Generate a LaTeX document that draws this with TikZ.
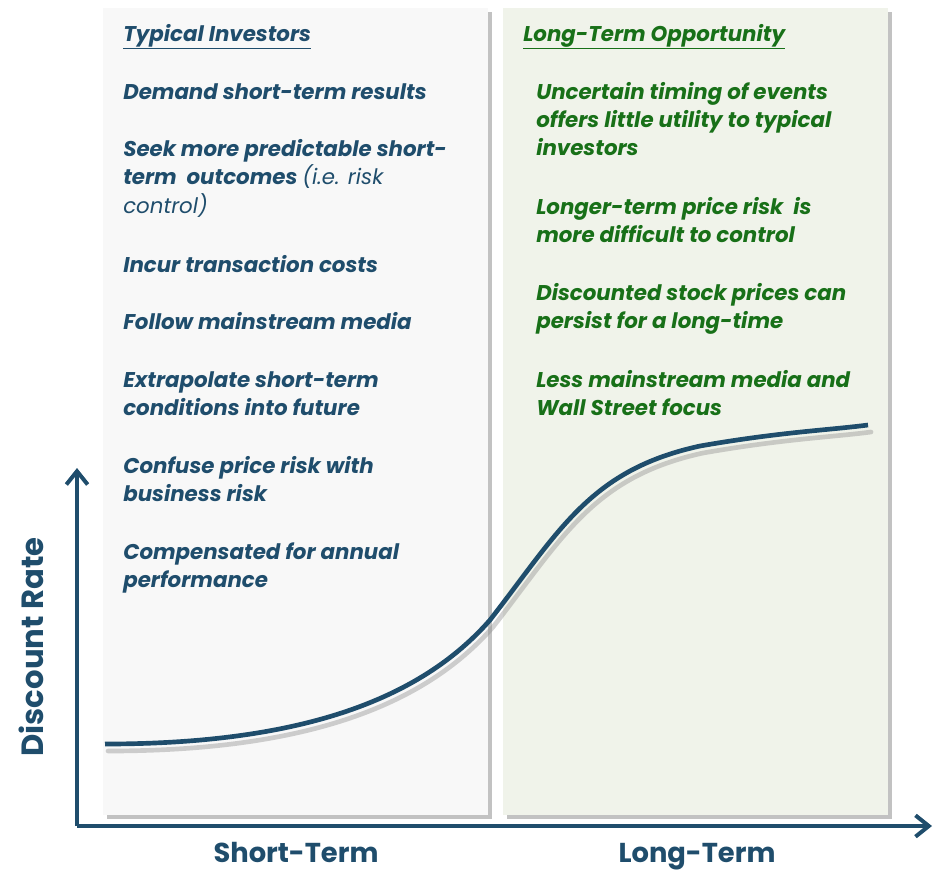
\documentclass[tikz,border=0pt]{standalone}
\usepackage{fontspec}
\setmainfont{Poppins}
\usetikzlibrary{shadows,arrows.meta}
\definecolor{navy}{RGB}{31,77,108}
\definecolor{grn}{RGB}{24,112,24}
\definecolor{lpanel}{RGB}{248,248,248}
\definecolor{rpanel}{RGB}{240,243,234}
\begin{document}
\begin{tikzpicture}[x=0.75pt,y=-0.75pt,
  panel/.style={draw=none, drop shadow={shadow xshift=3pt, shadow yshift=-3pt, opacity=0.4, fill=black!60}},
  ltxt/.style={anchor=base west, inner sep=0pt, text=navy, font=\fontsize{16}{19}\selectfont\bfseries\itshape},
  rtxt/.style={ltxt, text=grn},
  axis/.style={draw=navy, line width=3pt, -{Straight Barb[length=10pt,width=16pt,line width=3pt]}},
  axlab/.style={text=navy, font=\fontsize{20.5}{24}\selectfont\bfseries, inner sep=0pt}]
\useasboundingbox (0,0) rectangle (934,872);
% panels
\path[panel, fill=lpanel] (103,8) rectangle (488,815);
\path[panel, fill=rpanel] (503,8) rectangle (888,815);
% axes
\coordinate (o) at (77,826);
\coordinate (ytip) at (77,468);
\coordinate (xtip) at (932,826);
\draw[axis] (o) -- (ytip);
\draw[axis] (o) -- (xtip);
% curve shadow and curve
\draw[line width=3.5pt, black!45, opacity=0.4, line cap=round, shift={(3,7)}]
  (105,744) .. controls (300,744) and (420,700) .. (490,620)
  .. controls (560,530) and (590,470) .. (700,446)
  .. controls (780,432) and (830,430) .. (868,425);
\draw[line width=3.5pt, navy]
  (105,744) .. controls (300,744) and (420,700) .. (490,620)
  .. controls (560,530) and (590,470) .. (700,446)
  .. controls (780,432) and (830,430) .. (868,425);
% axis labels
\node[text=navy, font=\fontsize{23}{27}\selectfont\bfseries, inner sep=0pt, rotate=90] (ylab) at (31,647) {Discount Rate};
\node[axlab, anchor=base] (xl1) at (296,862) {Short-Term};
\node[axlab, anchor=base] (xl2) at (697,862) {Long-Term};
% left texts
\node[ltxt] (l0) at (123,41) {\underline{Typical Investors}};
\node[ltxt] (l1) at (123,99) {Demand short-term results};
\node[ltxt] (l2a) at (123,156) {Seek more predictable short-};
\node[ltxt] (l2b) at (123,184) {term\ \ outcomes {\mdseries (i.e. risk}};
\node[ltxt] (l2c) at (123,213) {\mdseries control)};
\node[ltxt] (l3) at (123,272) {Incur transaction costs};
\node[ltxt] (l4) at (123,329) {Follow mainstream media};
\node[ltxt] (l5a) at (123,387) {Extrapolate short-term};
\node[ltxt] (l5b) at (123,415) {conditions into future};
\node[ltxt] (l6a) at (123,473) {Confuse price risk with};
\node[ltxt] (l6b) at (123,501) {business risk};
\node[ltxt] (l7a) at (123,559) {Compensated for annual};
\node[ltxt] (l7b) at (123,587) {performance};
% right texts
\node[rtxt] (r0) at (523,41) {\underline{Long-Term Opportunity}};
\node[rtxt] (r1a) at (536,99) {Uncertain timing of events};
\node[rtxt] (r1b) at (536,127) {offers little utility to typical};
\node[rtxt] (r1c) at (536,155) {investors};
\node[rtxt] (r2a) at (536,214) {Longer-term price risk\ \ is};
\node[rtxt] (r2b) at (536,242) {more difficult to control};
\node[rtxt] (r3a) at (536,300) {Discounted stock prices can};
\node[rtxt] (r3b) at (536,328) {persist for a long-time};
\node[rtxt] (r4a) at (536,387) {Less mainstream media and};
\node[rtxt] (r4b) at (536,415) {Wall Street focus};
\end{tikzpicture}
\end{document}
